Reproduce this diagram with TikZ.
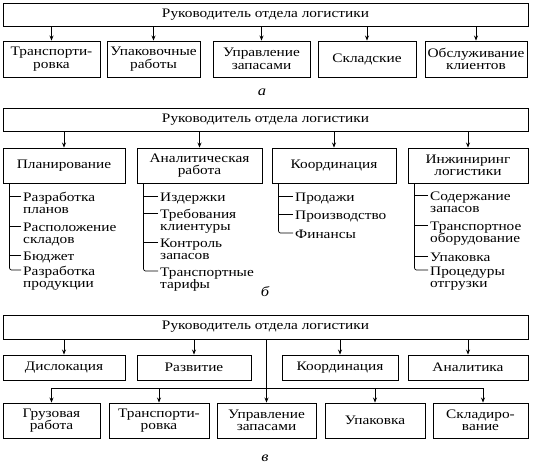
\documentclass[tikz,border=0pt]{standalone}
\usepackage{fontspec}
\setmainfont[FakeStretch=1.18]{Liberation Serif}
\usetikzlibrary{arrows.meta}
\newcommand\bx[6]{\node[box, minimum width={(#4-#2)*1pt}, minimum height={(#5-#3)*1pt}] (#1) at ({(#2+#4)/2},{(#3+#5)/2}) {#6};}
\newcommand\itm[4]{\node[item] (#1) at (#2,{#3+5}) {#4};}
\newcommand\two[2]{\vtop{\hbox{#1}\hbox{#2}}}
\newcommand\tk[2]{\draw[ln] ([xshift=-2pt,yshift=5pt]#2.base west) -| ([xshift=7pt]#1.south west);}
\newcommand\tkl[2]{\draw[ln,rounded corners=2pt] ([xshift=-2pt,yshift=5pt]#2.base west) -| ([xshift=7pt]#1.south west);}
\begin{document}
\begin{tikzpicture}[x=1pt,y=-1pt,
  box/.style={draw, line width=0.9pt, inner sep=0pt, align=center, font=\fontsize{13}{12.5}\selectfont},
  arr/.style={line width=0.7pt, -{Stealth[length=5pt,width=4pt]}},
  ln/.style={line width=0.7pt},
  item/.style={inner sep=0pt, anchor=base west, font=\fontsize{13}{12.5}\selectfont},
  partlabel/.style={font=\itshape\fontsize{14}{14}\selectfont}]
\useasboundingbox (0,0) rectangle (533,464);
% ---------- a ----------
\bx{ta}{3}{3}{528}{26}{Руководитель отдела логистики}
\bx{a1}{3}{41}{100}{77}{Транспорти-\\ровка}
\bx{a2}{107}{41}{200}{77}{Упаковочные\\работы}
\bx{a3}{213}{41}{310}{77}{Управление\\запасами}
\bx{a4}{318}{41}{416}{77}{Складские}
\bx{a5}{425}{41}{527}{77}{Обслуживание\\клиентов}
\foreach \n in {a1,a2,a3,a4,a5} \draw[arr] (ta.south -| \n.north) -- (\n.north);
\node[partlabel] (capa) at (262,92) {а};
% ---------- b ----------
\bx{tb}{3}{108}{528}{131}{Руководитель отдела логистики}
\bx{b1}{3}{148}{125}{183}{Планирование}
\bx{b2}{137}{148}{262}{183}{Аналитическая\\работа}
\bx{b3}{272}{148}{396}{183}{Координация}
\bx{b4}{408}{148}{528}{183}{Инжиниринг\\логистики}
\foreach \n in {b1,b2,b3,b4} \draw[arr] (tb.south -| \n.north) -- (\n.north);
\itm{b1i1}{23}{196}{\two{Разработка}{планов}}
\itm{b1i2}{23}{226}{\two{Расположение}{складов}}
\itm{b1i3}{23}{255}{Бюджет}
\itm{b1i4}{23}{270}{\two{Разработка}{продукции}}
\tk{b1}{b1i1}\tk{b1}{b1i2}\tk{b1}{b1i3}\tkl{b1}{b1i4}
\itm{b2i1}{160}{196}{Издержки}
\itm{b2i2}{160}{213}{\two{Требования}{клиентуры}}
\itm{b2i3}{160}{242}{\two{Контроль}{запасов}}
\itm{b2i4}{160}{271}{\two{Транспортные}{тарифы}}
\tk{b2}{b2i1}\tk{b2}{b2i2}\tk{b2}{b2i3}\tkl{b2}{b2i4}
\itm{b3i1}{295}{196}{Продажи}
\itm{b3i2}{295}{214}{Производство}
\itm{b3i3}{295}{233}{Финансы}
\tk{b3}{b3i1}\tk{b3}{b3i2}\tkl{b3}{b3i3}
\itm{b4i1}{430}{195}{\two{Содержание}{запасов}}
\itm{b4i2}{430}{225}{\two{Транспортное}{оборудование}}
\itm{b4i3}{430}{256}{Упаковка}
\itm{b4i4}{430}{270}{\two{Процедуры}{отгрузки}}
\tk{b4}{b4i1}\tk{b4}{b4i2}\tk{b4}{b4i3}\tkl{b4}{b4i4}
\node[partlabel] (capb) at (265,292) {б};
% ---------- c ----------
\bx{tc}{3}{315}{528}{339}{Руководитель отдела логистики}
\bx{c1}{3}{355}{125}{380}{Дислокация}
\bx{c2}{137}{355}{251}{380}{Развитие}
\bx{c3}{282}{355}{398}{380}{Координация}
\bx{c4}{408}{355}{528}{380}{Аналитика}
\foreach \n in {c1,c2,c3,c4} \draw[arr] (tc.south -| \n.north) -- (\n.north);
\bx{d1}{3}{403}{100}{438}{Грузовая\\работа}
\bx{d2}{109}{403}{209}{438}{Транспорти-\\ровка}
\bx{d3}{217}{403}{316}{438}{Управление\\запасами}
\bx{d4}{325}{403}{425}{438}{Упаковка}
\bx{d5}{433}{403}{528}{438}{Складиро-\\вание}
\draw[arr] (tc.south -| d3.north) -- (d3.north);
\coordinate (busl) at (52,388);
\coordinate (busr) at (483,388);
\draw[ln] (busl) -- (busr);
\foreach \n in {d1,d2,d4} \draw[arr] (busl -| \n.north) -- (\n.north);
\draw[arr] (busr) -- (busr |- d5.north);
\node[partlabel] (capc) at (265,458) {в};
\end{tikzpicture}
\end{document}
